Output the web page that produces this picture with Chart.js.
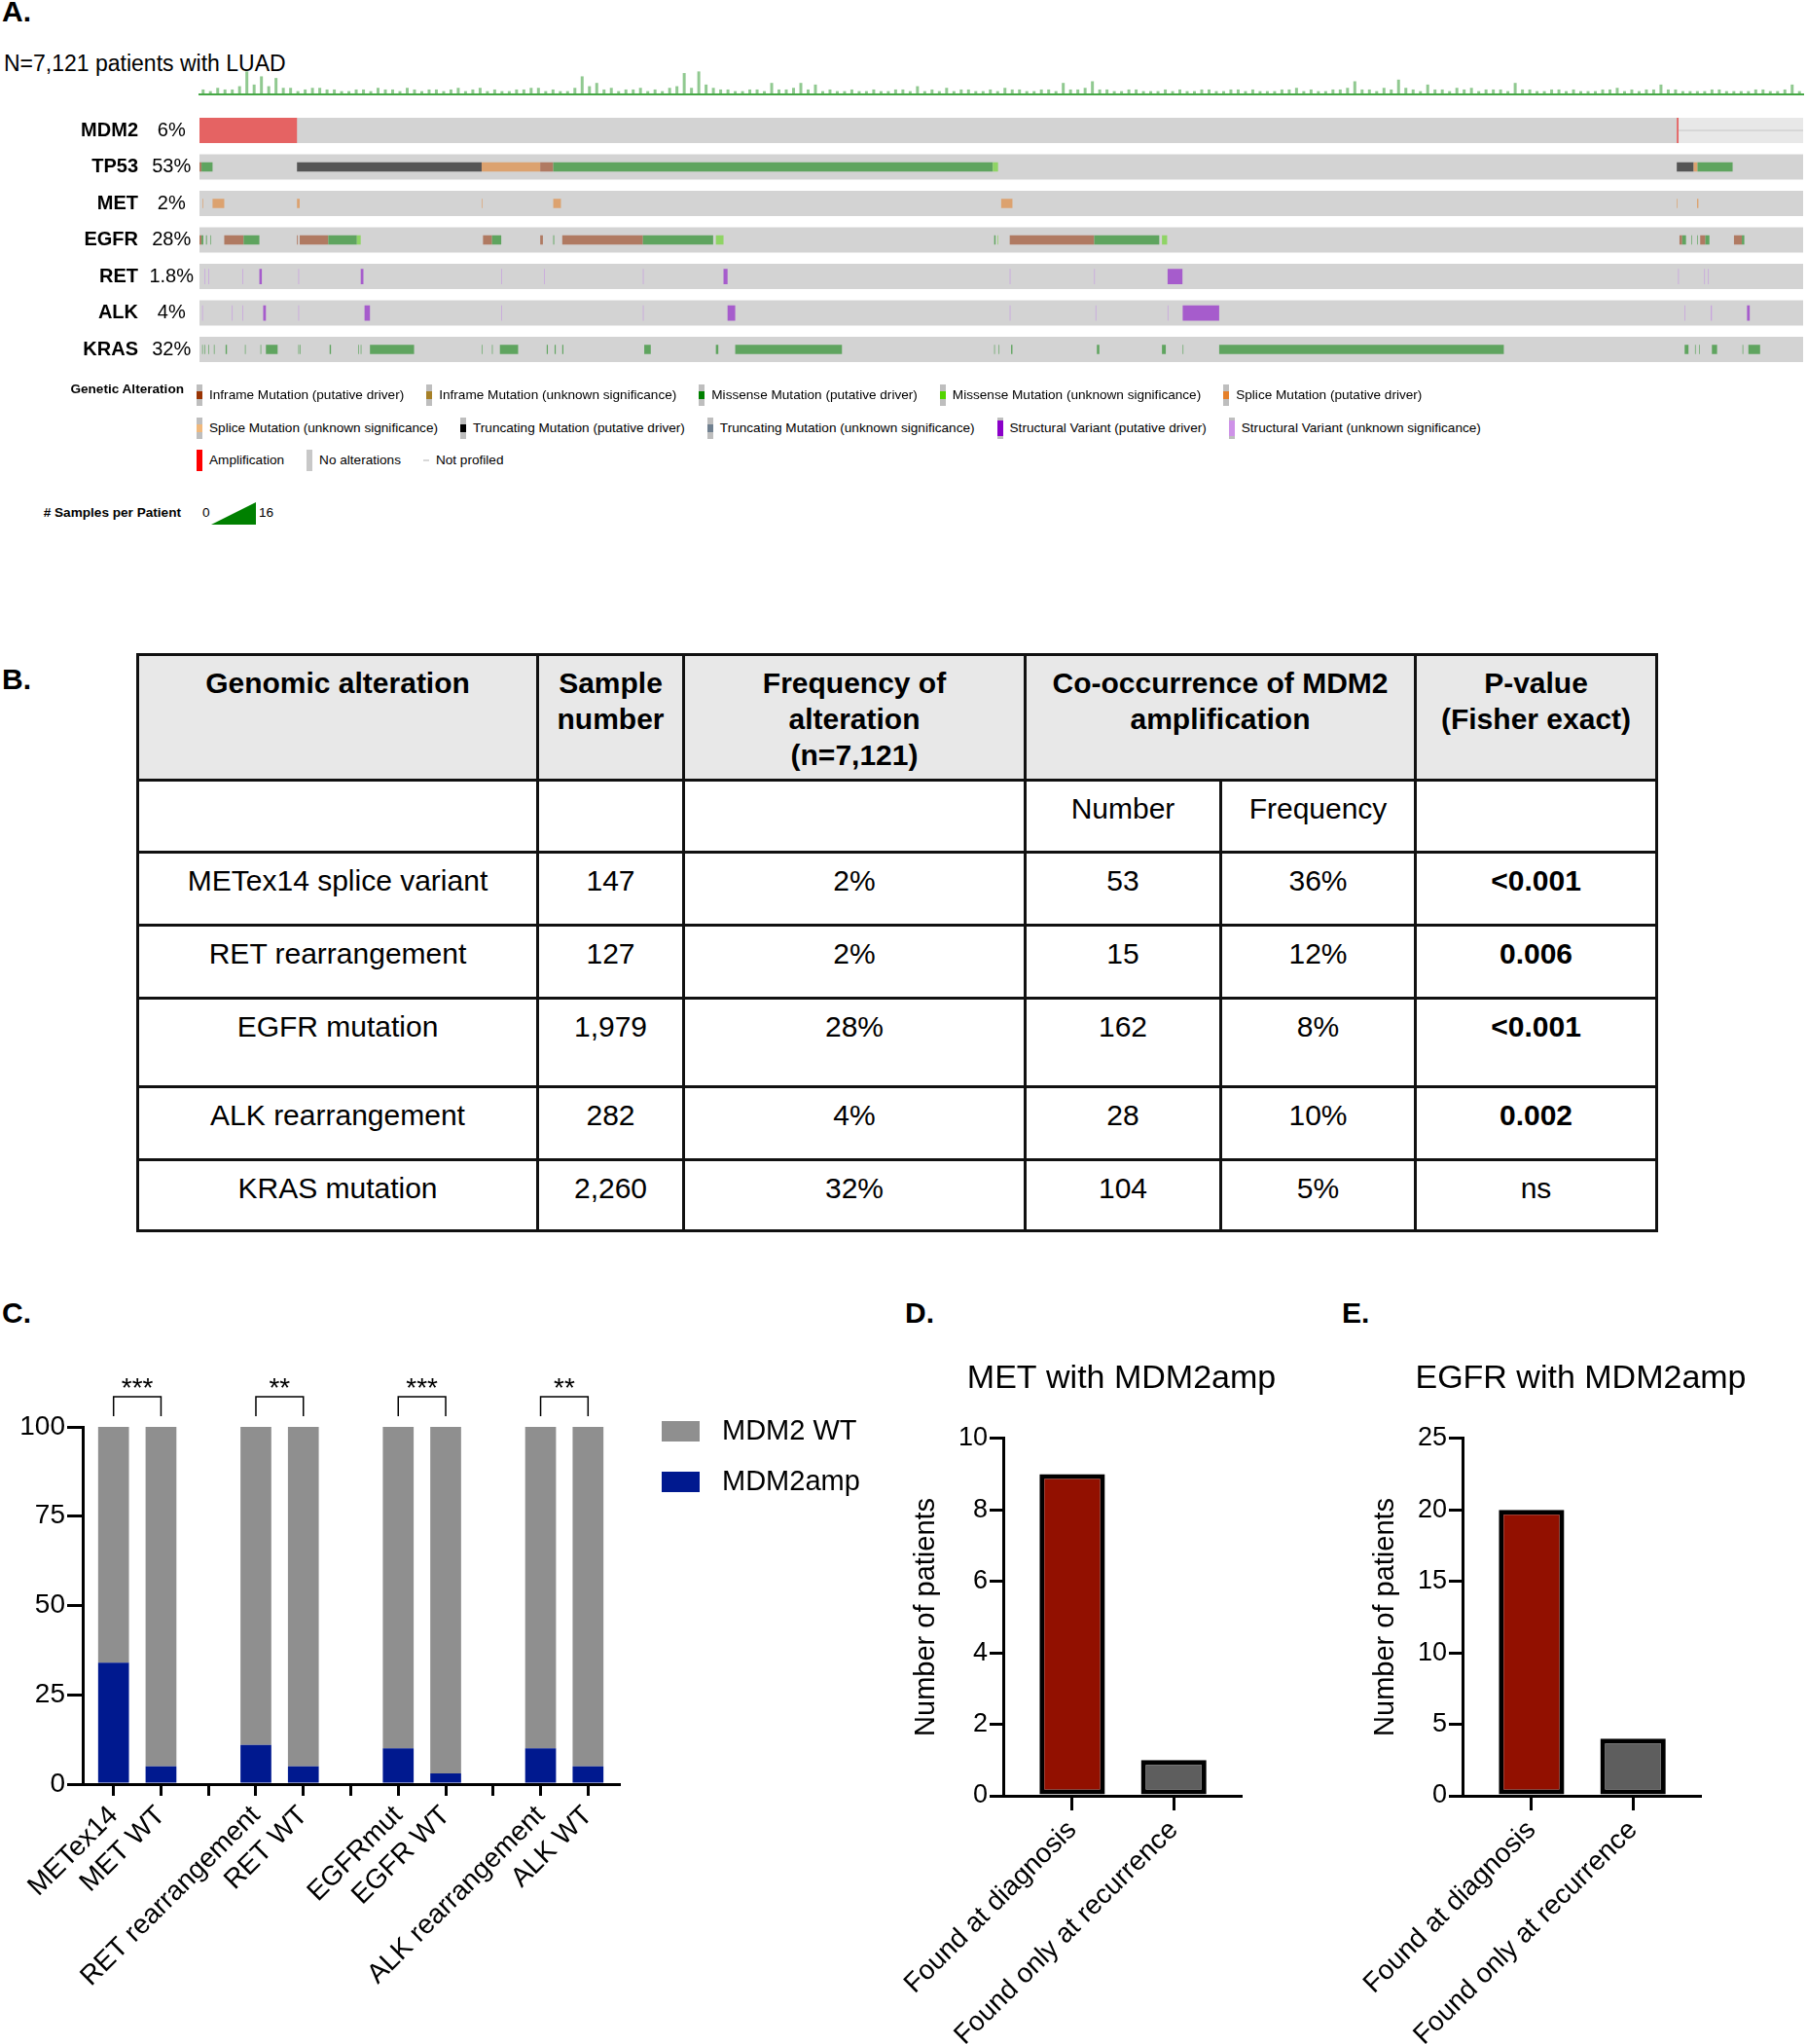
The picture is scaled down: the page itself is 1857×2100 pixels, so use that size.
<!DOCTYPE html>
<html>
<head>
<meta charset="utf-8">
<title>MDM2 amplification co-occurrence in LUAD</title>
<script src="https://cdn.jsdelivr.net/npm/chart.js@4.4.1/dist/chart.umd.min.js"></script>
<style>
  html, body { margin: 0; padding: 0; background: #fff; }
  body { width: 1857px; height: 2100px; position: relative; overflow: hidden;
         font-family: "Liberation Sans", Arial, Helvetica, sans-serif; color: #000; }
  .abs { position: absolute; }
  .panel { position: absolute; font-weight: bold; font-size: 30px; line-height: 1; }
  .wrap { position: absolute; }
  .legRow { position: absolute; left: 202px; display: flex; align-items: center; gap: 23px;
            font-size: 13.6px; line-height: 22px; white-space: nowrap; }
  .legItem { display: flex; align-items: center; }
  .sw { position: relative; width: 6px; height: 22px; background: #bebebe; margin-right: 7px; }
  .sw i { position: absolute; left: 0; width: 6px; }
  .sw.mut i { top: 7px; height: 8px; }
  .sw.sv i { top: 3px; height: 16px; }
  .sw.full i { top: 0; height: 22px; }
  .sw.np { background: transparent; }
  .sw.np i { top: 10px; height: 2px; }
  .small { font-size: 13.6px; line-height: 22px; }
  #tableB { position: absolute; left: 140px; top: 671px; width: 1561px; border-collapse: collapse;
            table-layout: fixed; font-size: 30px; }
  #tableB td, #tableB th { border: 3px solid #111; text-align: center; vertical-align: top;
            padding: 9px 4px 0; line-height: 37px; }
  #tableB thead th { background: #e8e8e8; font-weight: bold; }
  #tableB thead tr.h1 { height: 129px; }
  #tableB thead tr.h2 { height: 74px; }
  #tableB thead tr.h2 td { font-weight: normal; }
  #tableB tbody tr { height: 75px; }
  #tableB tbody tr:nth-child(3) { height: 91px; }
  #tableB tbody tr:nth-child(5) { height: 73px; }
</style>
</head>
<body>

<div class="panel" style="left:2px; top:-3px;">A.</div>
<div class="abs" style="left:4px; top:54px; font-size:23px; line-height:1;">N=7,121 patients with LUAD</div>
<div class="wrap" style="left:0; top:70px; width:1857px; height:30px;"><canvas id="histA"></canvas></div>
<div class="wrap" style="left:0; top:100px; width:1857px; height:290px;"><canvas id="oncoA"></canvas></div>

<div class="abs small" style="left:0; top:389px; width:189px; text-align:right; font-weight:bold;">Genetic Alteration</div>
<div id="legendA"></div>
<div class="abs small" style="left:0; top:516px; width:186px; text-align:right; font-weight:bold;"># Samples per Patient</div>
<div class="abs small" style="left:208px; top:516px;">0</div>
<div class="abs" style="left:217px; top:516px; width:46px; height:23px; background:#008000; clip-path:polygon(0 100%, 100% 0, 100% 100%);"></div>
<div class="abs small" style="left:266px; top:516px;">16</div>

<div class="panel" style="left:2px; top:683px;">B.</div>
<table id="tableB">
  <colgroup>
    <col style="width:411px"><col style="width:150px"><col style="width:351px">
    <col style="width:201px"><col style="width:200px"><col style="width:248px">
  </colgroup>
  <thead>
    <tr class="h1">
      <th>Genomic alteration</th>
      <th>Sample<br>number</th>
      <th>Frequency of<br>alteration<br>(n=7,121)</th>
      <th colspan="2">Co-occurrence of MDM2<br>amplification</th>
      <th>P-value<br>(Fisher exact)</th>
    </tr>
    <tr class="h2"><td></td><td></td><td></td><td>Number</td><td>Frequency</td><td></td></tr>
  </thead>
  <tbody id="tableBody"></tbody>
</table>

<div class="panel" style="left:2px; top:1334px;">C.</div>
<div class="panel" style="left:930px; top:1334px;">D.</div>
<div class="panel" style="left:1379px; top:1334px;">E.</div>
<div class="wrap" style="left:0; top:1400px; width:900px; height:700px;"><canvas id="chartC"></canvas></div>
<div class="wrap" style="left:920px; top:1380px; width:465px; height:720px;"><canvas id="chartD"></canvas></div>
<div class="wrap" style="left:1392px; top:1380px; width:465px; height:720px;"><canvas id="chartE"></canvas></div>

<script>
// ---------- Panel A: oncoprint data (patient index 0..7121) ----------
const totalPatients = 7121;
const genes = ['MDM2', 'TP53', 'MET', 'EGFR', 'RET', 'ALK', 'KRAS'];
const genePct = ['6%', '53%', '2%', '28%', '1.8%', '4%', '32%'];

// samples per patient track above the oncoprint (binned, left to right)
const sampleCountTrack = [
  3, 2, 4, 3, 3, 5, 14, 6, 11, 5, 10, 4, 4, 2, 3, 4, 4, 3, 3, 2,
  2, 3, 3, 2, 4, 3, 3, 2, 4, 3, 2, 3, 3, 2, 3, 4, 2, 3, 4, 2,
  3, 2, 2, 3, 3, 4, 4, 2, 3, 2, 2, 4, 11, 5, 7, 3, 4, 2, 3, 3,
  4, 2, 3, 2, 4, 5, 13, 4, 14, 6, 4, 3, 3, 2, 2, 3, 3, 2, 7, 3,
  3, 4, 7, 3, 6, 2, 3, 2, 2, 3, 2, 2, 3, 2, 2, 3, 3, 2, 5, 2,
  3, 2, 4, 2, 3, 3, 2, 2, 3, 2, 4, 3, 3, 2, 2, 3, 3, 2, 7, 3,
  3, 4, 8, 3, 3, 2, 2, 3, 3, 2, 2, 2, 3, 2, 3, 2, 2, 3, 3, 2,
  2, 3, 3, 2, 3, 2, 2, 2, 3, 3, 4, 2, 3, 2, 2, 3, 3, 4, 8, 3,
  3, 2, 4, 3, 9, 4, 3, 2, 6, 3, 3, 2, 4, 3, 4, 2, 3, 3, 3, 2,
  7, 3, 3, 2, 2, 3, 3, 2, 3, 2, 2, 2, 3, 3, 4, 2, 3, 2, 3, 3,
  6, 3, 3, 2, 2, 2, 2, 3, 3, 2, 2, 2, 2, 3, 3, 2, 2, 3, 6, 2
];

// [gene, first patient, last patient]
const amplification = [['MDM2', 0, 433], ['MDM2', 6560, 6568]];
const notProfiled = [['MDM2', 6568, 7121]];
const truncatingDriver = [['TP53', 433, 1253], ['TP53', 6560, 6635]];
const spliceDriver = [
  ['TP53', 1253, 1513], ['TP53', 6635, 6652],
  ['MET', 14, 17], ['MET', 58, 110], ['MET', 433, 445], ['MET', 1253, 1256], ['MET', 1571, 1605],
  ['MET', 3560, 3610], ['MET', 6560, 6563], ['MET', 6650, 6656]
];
const inframeDriver = [
  ['TP53', 0, 9], ['TP53', 1513, 1571],
  ['EGFR', 0, 9], ['EGFR', 110, 196], ['EGFR', 433, 437], ['EGFR', 445, 572], ['EGFR', 1259, 1299],
  ['EGFR', 1513, 1525], ['EGFR', 1611, 1969], ['EGFR', 3598, 3973], ['EGFR', 6572, 6584],
  ['EGFR', 6664, 6687], ['EGFR', 6814, 6849]
];
const missenseDriver = [
  ['TP53', 9, 58], ['TP53', 1571, 3523], ['TP53', 6652, 6808],
  ['EGFR', 9, 17], ['EGFR', 29, 33], ['EGFR', 49, 52], ['EGFR', 196, 266], ['EGFR', 572, 699],
  ['EGFR', 1299, 1340], ['EGFR', 1571, 1575], ['EGFR', 1969, 2281], ['EGFR', 3529, 3535],
  ['EGFR', 3973, 4262], ['EGFR', 6584, 6601], ['EGFR', 6625, 6628], ['EGFR', 6650, 6653],
  ['EGFR', 6687, 6705], ['EGFR', 6849, 6860],
  ['KRAS', 12, 15], ['KRAS', 23, 26], ['KRAS', 40, 43], ['KRAS', 64, 67], ['KRAS', 116, 122],
  ['KRAS', 202, 205], ['KRAS', 271, 274], ['KRAS', 295, 347], ['KRAS', 439, 442], ['KRAS', 445, 448],
  ['KRAS', 578, 584], ['KRAS', 705, 708], ['KRAS', 716, 719], ['KRAS', 757, 953], ['KRAS', 1253, 1256],
  ['KRAS', 1299, 1302], ['KRAS', 1334, 1415], ['KRAS', 1542, 1547], ['KRAS', 1577, 1582],
  ['KRAS', 1611, 1616], ['KRAS', 1975, 2004], ['KRAS', 2293, 2304], ['KRAS', 2379, 2853],
  ['KRAS', 3529, 3532], ['KRAS', 3549, 3552], ['KRAS', 3604, 3610], ['KRAS', 3985, 3996],
  ['KRAS', 4274, 4291], ['KRAS', 4366, 4369], ['KRAS', 4528, 5792], ['KRAS', 6595, 6612],
  ['KRAS', 6641, 6644], ['KRAS', 6659, 6662], ['KRAS', 6716, 6739], ['KRAS', 6852, 6855],
  ['KRAS', 6878, 6930]
];
const missenseUnknown = [
  ['TP53', 3523, 3546], ['EGFR', 699, 716], ['EGFR', 2293, 2327], ['EGFR', 3543, 3546], ['EGFR', 4274, 4297]
];
const svDriver = [
  ['RET', 266, 277], ['RET', 716, 728], ['RET', 2327, 2345], ['RET', 4299, 4365],
  ['ALK', 283, 295], ['ALK', 733, 757], ['ALK', 2345, 2379], ['ALK', 4366, 4528], ['ALK', 6872, 6884]
];
const svUnknown = [
  ['RET', 23, 26], ['RET', 40, 43], ['RET', 191, 194], ['RET', 439, 442], ['RET', 1340, 1343],
  ['RET', 1530, 1533], ['RET', 1969, 1972], ['RET', 3598, 3601], ['RET', 3973, 3976],
  ['RET', 6566, 6569], ['RET', 6682, 6685], ['RET', 6699, 6702],
  ['ALK', 12, 15], ['ALK', 144, 147], ['ALK', 191, 194], ['ALK', 439, 442], ['ALK', 1340, 1343],
  ['ALK', 1969, 1972], ['ALK', 3598, 3601], ['ALK', 3979, 3982], ['ALK', 4299, 4302],
  ['ALK', 6595, 6598], ['ALK', 6711, 6716]
];

const legendRowsA = [
  ['Inframe Mutation (putative driver)', 'Inframe Mutation (unknown significance)', 'Missense Mutation (putative driver)',
   'Missense Mutation (unknown significance)', 'Splice Mutation (putative driver)'],
  ['Splice Mutation (unknown significance)', 'Truncating Mutation (putative driver)', 'Truncating Mutation (unknown significance)',
   'Structural Variant (putative driver)', 'Structural Variant (unknown significance)'],
  ['Amplification', 'No alterations', 'Not profiled']
];

// ---------- Panel B: table ----------
const alterationNames = ['METex14 splice variant', 'RET rearrangement', 'EGFR mutation', 'ALK rearrangement', 'KRAS mutation'];
const sampleNumbers = ['147', '127', '1,979', '282', '2,260'];
const alterationFreq = ['2%', '2%', '28%', '4%', '32%'];
const coNumbers = ['53', '15', '162', '28', '104'];
const coFreq = ['36%', '12%', '8%', '10%', '5%'];
const pValues = ['<0.001', '0.006', '<0.001', '0.002', 'ns'];

// ---------- Panel C ----------
const cCategories = ['METex14', 'MET WT', 'RET rearrangement', 'RET WT', 'EGFRmut', 'EGFR WT', 'ALK rearrangement', 'ALK WT'];
const cAmp = [34, 5, 11, 5, 10, 3, 10, 5];
const cWT = [66, 95, 89, 95, 90, 97, 90, 95];
const cStars = ['***', '**', '***', '**'];

// ---------- Panels D / E ----------
const timingCategories = ['Found at diagnosis', 'Found only at recurrence'];
const metWithAmp = [9, 1];
const egfrWithAmp = [20, 4];

// ---------------------------------------------------------------
Chart.defaults.font.family = '"Liberation Sans", Arial, Helvetica, sans-serif';
Chart.defaults.color = '#000';
Chart.defaults.animation = false;
Chart.defaults.maintainAspectRatio = false;
Chart.defaults.plugins.legend.display = false;
Chart.defaults.plugins.tooltip.enabled = false;

// legend of panel A
const legendLook = {
  'Inframe Mutation (putative driver)': ['mut', '#993404'],
  'Inframe Mutation (unknown significance)': ['mut', '#a68028'],
  'Missense Mutation (putative driver)': ['mut', '#008000'],
  'Missense Mutation (unknown significance)': ['mut', '#53d400'],
  'Splice Mutation (putative driver)': ['mut', '#e5802b'],
  'Splice Mutation (unknown significance)': ['mut', '#f0b87b'],
  'Truncating Mutation (putative driver)': ['mut', '#000000'],
  'Truncating Mutation (unknown significance)': ['mut', '#708090'],
  'Structural Variant (putative driver)': ['sv', '#8b00c9'],
  'Structural Variant (unknown significance)': ['sv', '#ce92e8'],
  'Amplification': ['full', '#ff0000'],
  'No alterations': ['full', '#c8c8c8'],
  'Not profiled': ['np', '#d8d8d8']
};
const legA = document.getElementById('legendA');
legendRowsA.forEach((row, r) => {
  const div = document.createElement('div');
  div.className = 'legRow';
  div.style.top = (395 + r * 33.5) + 'px';
  row.forEach(label => {
    const [kind, color] = legendLook[label];
    const item = document.createElement('span');
    item.className = 'legItem';
    item.innerHTML = `<span class="sw ${kind}"><i style="background:${color}"></i></span>${label}`;
    div.appendChild(item);
  });
  legA.appendChild(div);
});

// table body
const tbody = document.getElementById('tableBody');
alterationNames.forEach((name, i) => {
  const tr = document.createElement('tr');
  const cells = [name, sampleNumbers[i], alterationFreq[i], coNumbers[i], coFreq[i], pValues[i]];
  cells.forEach((txt, j) => {
    const td = document.createElement('td');
    td.textContent = txt;
    if (j === 5 && txt !== 'ns') td.style.fontWeight = 'bold';
    tr.appendChild(td);
  });
  tbody.appendChild(tr);
});

// samples per patient track
new Chart(document.getElementById('histA'), {
  type: 'bar',
  data: {
    labels: sampleCountTrack.map((_, i) => i),
    datasets: [{ data: sampleCountTrack, backgroundColor: 'rgba(70,165,70,0.6)', barPercentage: 0.4, categoryPercentage: 1 }]
  },
  options: {
    layout: { padding: { left: 205, right: 4, top: 0, bottom: 3 } },
    scales: {
      x: { ticks: { display: false }, grid: { display: false, drawTicks: false }, border: { color: '#45a845', width: 2 },
           afterFit: s => { s.height = 0; s.paddingLeft = 0; s.paddingRight = 0; } },
      y: { display: false, min: 0, max: 16 }
    }
  }
});

// oncoprint rows as floating bars
const toBars = segs => segs.map(([g, s, e]) => ({ y: g, x: [s, e] }));
const seg = (label, segs, color, thickness) => ({
  label, data: toBars(segs), backgroundColor: color, barPercentage: thickness
});
// fixed width for the label columns, no extra label padding above/below the rows
const fixedLabelAxis = width => s => { s.width = width; s.paddingTop = 0; s.paddingBottom = 0; };

new Chart(document.getElementById('oncoA'), {
  type: 'bar',
  data: {
    labels: genes,
    datasets: [
      seg('Structural Variant (unknown significance)', svUnknown, '#c79ee0', 0.42),
      seg('Structural Variant (putative driver)', svDriver, '#a65ccc', 0.42),
      seg('Missense Mutation (unknown significance)', missenseUnknown, '#8fd465', 0.25),
      seg('Missense Mutation (putative driver)', missenseDriver, '#5fa45f', 0.25),
      seg('Inframe Mutation (putative driver)', inframeDriver, '#b07a62', 0.25),
      seg('Splice Mutation (putative driver)', spliceDriver, '#dca26f', 0.25),
      seg('Truncating Mutation (putative driver)', truncatingDriver, '#555555', 0.25),
      seg('Amplification', amplification, '#e56363', 0.69),
      seg('Not profiled line', notProfiled, '#d2d2d2', 0.04),
      seg('Not profiled', notProfiled, '#e8e8e8', 0.69),
      seg('No alterations', genes.map(g => [g, 0, totalPatients]), '#d3d3d3', 0.69)
    ]
  },
  options: {
    indexAxis: 'y',
    layout: { padding: { top: 15.25, bottom: 12.25, left: 0, right: 4 } },
    datasets: { bar: { grouped: false, categoryPercentage: 1, borderWidth: 0 } },
    scales: {
      x: { type: 'linear', display: false, min: 0, max: totalPatients,
           afterFit: s => { s.height = 0; } },
      y: { weight: 1, grid: { display: false, drawTicks: false }, border: { display: false },
           ticks: { font: { size: 20, weight: 'bold' }, padding: 8 },
           afterFit: fixedLabelAxis(150) },
      yPct: { type: 'category', position: 'left', labels: genePct, offset: true, weight: 0,
              grid: { display: false, drawTicks: false }, border: { display: false },
              ticks: { font: { size: 20 }, padding: 6, crossAlign: 'center' },
              afterFit: fixedLabelAxis(55) }
    }
  }
});

// ---------- Panel C ----------
const cSlots = cCategories.map((_, i) => i + Math.floor(i / 2)); // pairs separated by an empty slot
const cSlotLabel = {};
cCategories.forEach((c, i) => { cSlotLabel[cSlots[i]] = c; });
const cTickSlots = Array.from({ length: cSlots[cSlots.length - 1] + 1 }, (_, i) => i);

const blackGrid = { display: true, drawOnChartArea: false, offset: false, lineWidth: 3, color: '#000' };
const blackBorder = { display: true, width: 3, color: '#000' };

const cBrackets = {
  id: 'cBrackets',
  afterDatasetsDraw(chart) {
    const { ctx, chartArea, scales: { x } } = chart;
    ctx.save();
    ctx.strokeStyle = '#000';
    ctx.lineWidth = 1.5;
    ctx.fillStyle = '#000';
    ctx.font = '28px "Liberation Sans", Arial, sans-serif';
    ctx.textAlign = 'center';
    ctx.textBaseline = 'middle';
    cStars.forEach((s, k) => {
      const x1 = x.getPixelForValue(cSlots[2 * k]);
      const x2 = x.getPixelForValue(cSlots[2 * k + 1]);
      const top = chartArea.top - 31, bot = chartArea.top - 11;
      ctx.beginPath();
      ctx.moveTo(x1, bot); ctx.lineTo(x1, top); ctx.lineTo(x2, top); ctx.lineTo(x2, bot);
      ctx.stroke();
      ctx.fillText(s, (x1 + x2) / 2, top - 8);
    });
    ctx.restore();
  }
};

const cLegend = {
  id: 'cLegend',
  afterDraw(chart) {
    const { ctx, chartArea } = chart;
    const items = chart.data.datasets.slice().reverse();
    ctx.save();
    ctx.font = '29px "Liberation Sans", Arial, sans-serif';
    ctx.textAlign = 'left';
    ctx.textBaseline = 'middle';
    items.forEach((ds, k) => {
      const y = chartArea.top - 6 + k * 52;
      ctx.fillStyle = ds.backgroundColor;
      ctx.fillRect(chartArea.right + 44, y, 39, 21);
      ctx.fillStyle = '#000';
      ctx.fillText(ds.label, chartArea.right + 106, y + 11);
    });
    ctx.restore();
  }
};

new Chart(document.getElementById('chartC'), {
  type: 'bar',
  data: {
    datasets: [
      { label: 'MDM2amp', data: cAmp.map((v, i) => ({ x: cSlots[i], y: v })), backgroundColor: '#00198f' },
      { label: 'MDM2 WT', data: cWT.map((v, i) => ({ x: cSlots[i], y: v })), backgroundColor: '#8f8f8f' }
    ]
  },
  options: {
    layout: { padding: { top: 66, right: 264, left: 0, bottom: 0 } },
    datasets: { bar: { barPercentage: 0.65, categoryPercentage: 1 } },
    scales: {
      x: {
        type: 'linear', stacked: true, offset: false, min: -0.65, max: 10.65,
        ticks: { stepSize: 1, autoSkip: false, minRotation: 45, maxRotation: 45, padding: 4,
                 font: { size: 28 }, callback: v => cSlotLabel[v] || '' },
        afterBuildTicks: s => { s.ticks = cTickSlots.map(v => ({ value: v })); },
        afterFit: s => { s.height = 267; s.paddingLeft = 0; s.paddingRight = 0; },
        grid: { ...blackGrid, tickLength: 12 },
        border: blackBorder
      },
      y: {
        stacked: true, min: 0, max: 100,
        ticks: { stepSize: 25, font: { size: 28 }, padding: 2 },
        afterFit: s => { s.width = 85; },
        grid: { ...blackGrid, tickLength: 16 },
        border: blackBorder
      }
    }
  },
  plugins: [cBrackets, cLegend]
});

// ---------- Panels D and E ----------
function timingChart(id, title, values, yMax, yStep) {
  return new Chart(document.getElementById(id), {
    type: 'bar',
    data: {
      datasets: [{
        data: values.map((v, i) => ({ x: i, y: v })),
        backgroundColor: ['#921000', '#5e5e5e'],
        borderColor: '#000',
        borderWidth: 5,
        borderSkipped: false,
        barPercentage: 0.645,
        categoryPercentage: 1
      }]
    },
    options: {
      layout: { padding: 0 },
      plugins: {
        title: { display: true, text: title, font: { size: 34, weight: 'normal' }, color: '#000',
                 padding: { top: 16, bottom: 41 } }
      },
      scales: {
        x: {
          type: 'linear', offset: false, min: -0.68, max: 1.66,
          ticks: { stepSize: 1, autoSkip: false, minRotation: 45, maxRotation: 45, padding: 4,
                   font: { size: 28 }, callback: v => timingCategories[v] || '' },
          afterBuildTicks: s => { s.ticks = timingCategories.map((_, i) => ({ value: i })); },
          afterFit: s => { s.height = 255; s.paddingLeft = 0; s.paddingRight = 110; },
          grid: { ...blackGrid, tickLength: 15 },
          border: blackBorder
        },
        y: {
          min: 0, max: yMax,
          ticks: { stepSize: yStep, font: { size: 27 }, padding: 2 },
          title: { display: true, text: 'Number of patients', font: { size: 29 }, padding: { top: 15, bottom: 0 } },
          afterFit: s => { s.width = 111; },
          grid: { ...blackGrid, tickLength: 14 },
          border: blackBorder
        }
      }
    }
  });
}

timingChart('chartD', 'MET with MDM2amp', metWithAmp, 10, 2);
timingChart('chartE', 'EGFR with MDM2amp', egfrWithAmp, 25, 5);
</script>
</body>
</html>
